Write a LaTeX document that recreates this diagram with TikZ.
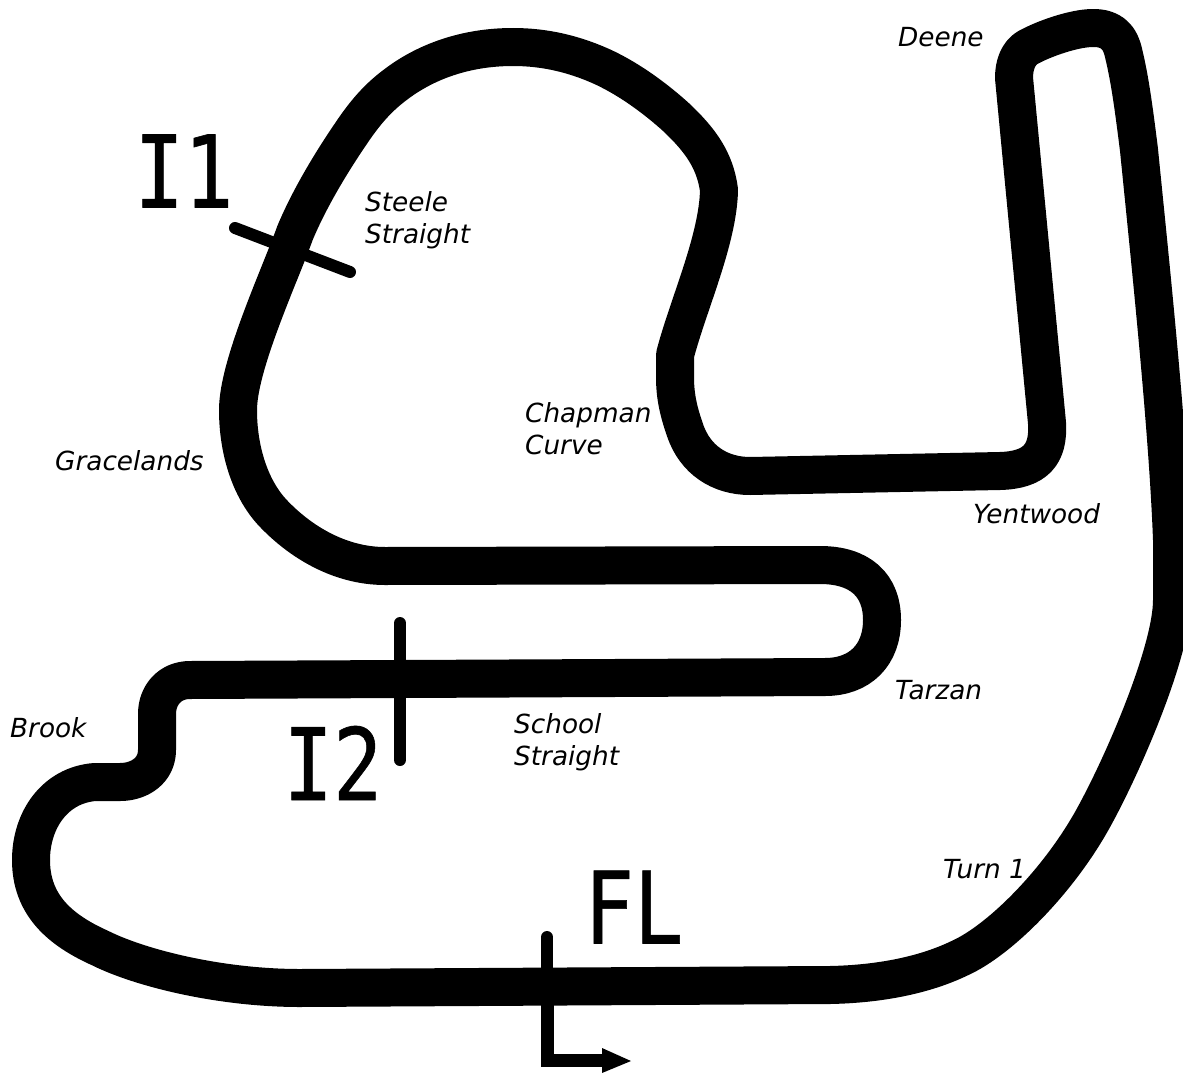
\documentclass[tikz,border=0pt]{standalone}
\usepackage{fontspec}
\usepackage{graphicx}
\setmainfont{DejaVu Sans}
\newfontfamily\monof[FakeBold=0.6]{DejaVu Sans Mono}
\tikzset{
  trackline/.style={line width=38pt,line join=round,black},
  marker/.style={line width=12pt,line cap=round,black},
  corner/.style={font=\fontsize{26.3}{32}\selectfont\itshape,anchor=west,align=left,inner sep=0pt},
  sector/.style={font=\monof\fontsize{100}{100}\selectfont,inner sep=0pt,anchor=center}
}
\begin{document}
\begin{tikzpicture}[x=1pt,y=-1pt]
\useasboundingbox (0,0) rectangle (1183,1073);
\fill[white] (0,0) rectangle (1183,1073);
\draw[trackline] (300,988) -- (830,985)
 .. controls (880,984) and (925,975) .. (960,958)
 .. controls (1000,940) and (1060,880) .. (1095,815)
 .. controls (1125,760) and (1172,650) .. (1172,600)
 -- (1172,540)
 .. controls (1168,430) and (1150,260) .. (1139,150)
 .. controls (1134,110) and (1130,80) .. (1124,55)
 .. controls (1120,35) and (1110,28) .. (1093,28)
 .. controls (1075,28) and (1045,38) .. (1027,48)
 .. controls (1018,54) and (1014,65) .. (1014,78)
 -- (1047,423)
 .. controls (1049,455) and (1035,470) .. (1000,471)
 -- (750,476)
 .. controls (720,476) and (695,460) .. (685,430)
 .. controls (678,410) and (675,395) .. (675,377)
 -- (675,355)
 .. controls (688,305) and (718,240) .. (719,190)
 .. controls (715,160) and (700,140) .. (677,118)
 .. controls (655,98) and (630,80) .. (605,68)
 .. controls (575,54) and (545,47) .. (513,47)
 .. controls (465,47) and (425,62) .. (395,85)
 .. controls (375,100) and (362,117) .. (350,135)
 .. controls (333,160) and (310,197) .. (295,233)
 .. controls (280,275) and (238,365) .. (238,410)
 .. controls (238,450) and (250,488) .. (272,512)
 .. controls (300,542) and (340,566) .. (385,566)
 -- (820,565)
 .. controls (860,565) and (882,585) .. (882,620)
 .. controls (882,655) and (860,677) .. (825,677)
 -- (190,680)
 .. controls (170,680) and (157,695) .. (157,714)
 -- (157,750)
 .. controls (157,770) and (140,782) .. (120,782)
 -- (95,782)
 .. controls (55,785) and (31,820) .. (31,860)
 .. controls (31,905) and (60,930) .. (100,948)
 .. controls (140,968) and (220,988) .. (300,988) -- cycle;
\coordinate (i1a) at (235,228);
\coordinate (i1b) at (350,272);
\coordinate (i2a) at (400,623);
\coordinate (i2b) at (400,760);
\coordinate (fla) at (547,937);
\coordinate (flm) at (547,1000);
\coordinate (flb) at (547,1060);
\coordinate (flc) at (606,1060);
\draw[marker] (i1a) -- (i1b);
\draw[marker] (i2a) -- (i2b);
\draw[marker] (fla) -- (flm);
\draw[marker,line width=13pt,line join=miter,line cap=butt] (flm) -- (flb) -- (flc);
\fill (602,1048) -- (631,1061) -- (602,1073) -- cycle;
\node[sector] (li1) at (184,171) {\scalebox{.82}[1]{I1}};
\node[sector] (li2) at (333,763) {\scalebox{.82}[1]{I2}};
\node[sector] (lfl) at (634,907) {\scalebox{.82}[1]{FL}};
\node[corner] (deene) at (898,37) {Deene};
\node[corner] (steele) at (365,220) {Steele\\Straight};
\node[corner] (chap) at (525,429) {Chapman\\Curve};
\node[corner] (grace) at (55,461) {Gracelands};
\node[corner] (yent) at (973,514) {Yentwood};
\node[corner] (tarz) at (895,690) {Tarzan};
\node[corner] (brook) at (10,728) {Brook};
\node[corner] (school) at (514,742) {School\\Straight};
\node[corner] (turn) at (943,869) {Turn 1};
\end{tikzpicture}
\end{document}
